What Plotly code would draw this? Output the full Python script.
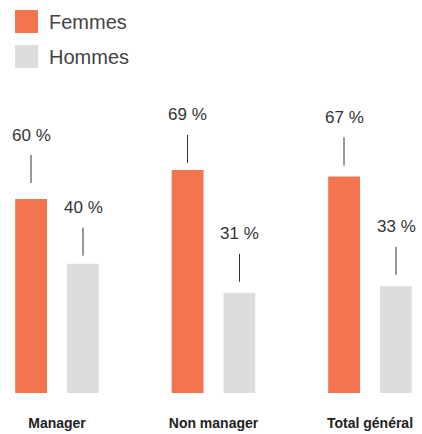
import plotly.graph_objects as go

categories = ["Manager", "Non manager", "Total général"]
femmes = [60, 69, 67]
hommes = [40, 31, 33]
series_names = ["Femmes", "Hommes"]

# style: pixel distance from bar top to label centre (hand-placed in the original)
label_offsets_f = [64, 55, 59]
label_offsets_h = [56, 59, 59.5]

ORANGE = "#F2754F"
GRAY = "#DCDDDF"
W, H = 422, 434
MB = 41
PLOT_H = H - MB
PX_PER_UNIT = 3.233

fig = go.Figure()
fig.add_bar(x=categories, y=femmes, name=series_names[0], marker_color=ORANGE,
            marker_line_width=0, hoverinfo="skip")
fig.add_bar(x=categories, y=hommes, name=series_names[1], marker_color=GRAY,
            marker_line_width=0, hoverinfo="skip")

shapes = []
annotations = []
for i, cat in enumerate(categories):
    for vals, offs, dx in ((femmes, label_offsets_f, -26), (hommes, label_offsets_h, 26)):
        v = vals[i]
        off = offs[i]
        annotations.append(dict(x=i, y=v, xref="x", yref="y", text=f"{v} %",
                                showarrow=False, xshift=dx, yshift=off,
                                font=dict(family="Liberation Sans, Arial", size=17, color="#333333"),
                                xanchor="center", yanchor="middle"))
        shapes.append(dict(type="line", xref="x", yref="y",
                           xsizemode="pixel", xanchor=i, x0=dx, x1=dx,
                           ysizemode="pixel", yanchor=v, y0=off - 48, y1=off - 20,
                           line=dict(color="#333333", width=1)))

def px_x(p):
    return p / W

def px_y(p):
    return 1 - p / PLOT_H

legend_colors = [ORANGE, GRAY]
for k, (name, col) in enumerate(zip(series_names, legend_colors)):
    top = 10 + 35 * k
    shapes.append(dict(type="rect", xref="paper", yref="paper",
                       x0=px_x(15), x1=px_x(38), y0=px_y(top + 23), y1=px_y(top),
                       fillcolor=col, line_width=0))
    annotations.append(dict(x=px_x(47), y=px_y(top + 12), xref="paper", yref="paper",
                            text=name, showarrow=False, xanchor="left", yanchor="middle",
                            font=dict(family="Liberation Sans, Arial", size=20, color="#444444")))

fig.update_layout(
    width=W, height=H,
    margin=dict(l=0, r=0, t=0, b=MB, pad=0),
    paper_bgcolor="white", plot_bgcolor="white",
    barmode="group", bargap=0.338, bargroupgap=0.385,
    showlegend=False,
    shapes=shapes, annotations=annotations,
    xaxis=dict(range=[-57 / 156.5, (W - 57) / 156.5], showgrid=False, zeroline=False,
               showline=False, ticks="", ticklabelstandoff=20,
               tickfont=dict(family="Liberation Sans Narrow, Arial Narrow, Liberation Sans", size=14,
                             color="#222222", weight="bold")),
    yaxis=dict(range=[0, PLOT_H / PX_PER_UNIT], visible=False, fixedrange=True),
)

fig.write_html("out.html", config={"displayModeBar": False},
               post_script="document.body.style.margin='0';document.body.style.overflow='hidden';")
